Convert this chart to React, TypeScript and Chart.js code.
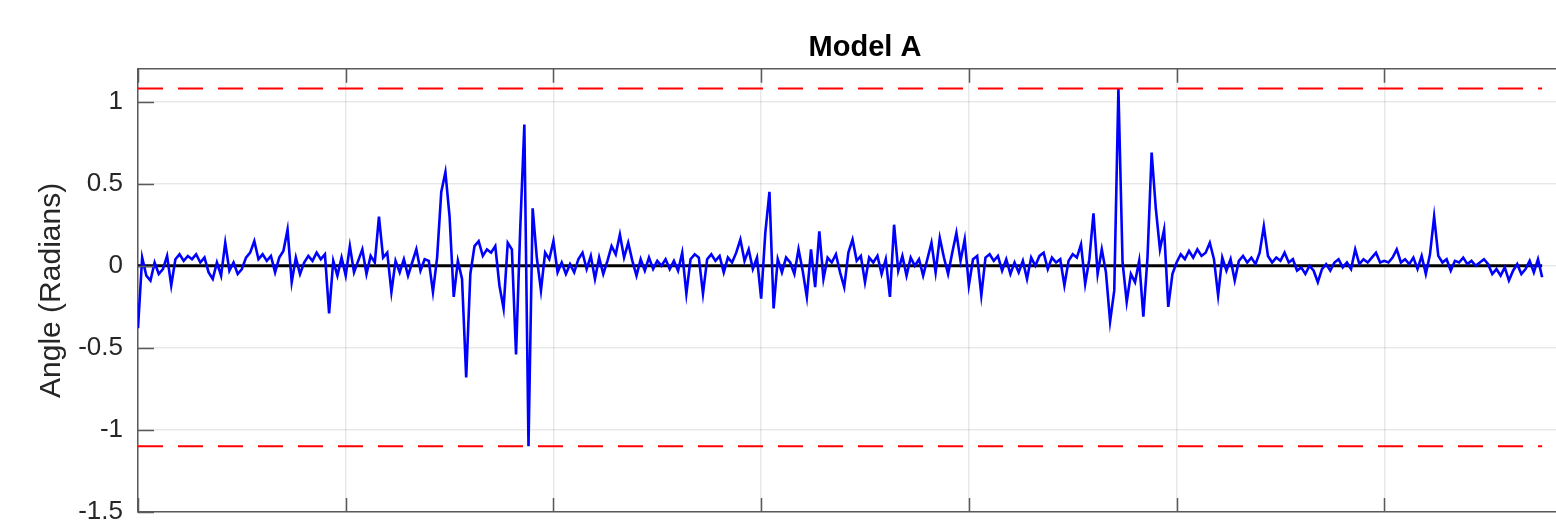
import { useEffect, useRef } from 'react';
import { Chart, registerables } from 'chart.js';

Chart.register(...registerables);

// ---- data ----
const SAMPLE_STEP = 0.02; // x-units between consecutive samples
const TITLE = 'Model A';
const Y_LABEL = 'Angle (Radians)';
const Y_MIN = -1.5;
const Y_MAX = 1.2;
const X_MIN = 0;
const X_MAX = 7;
const Y_TICKS = [-1.5, -1, -0.5, 0, 0.5, 1];
const UPPER_LIMIT = 1.08;
const LOWER_LIMIT = -1.1;

const seg0 = [
  -0.38, 0.05, -0.06, -0.09, 0.02, -0.05, -0.02, 0.06, -0.12, 0.04,
  0.07, 0.03, 0.06, 0.04, 0.07, 0.02, 0.05, -0.04, -0.08, 0.02,
  -0.06, 0.14, -0.03, 0.02, -0.05, -0.02, 0.05, 0.08, 0.15, 0.04,
  0.07, 0.03, 0.06, -0.04, 0.05, 0.09, 0.22, -0.1, 0.05, -0.05,
  0.02, 0.06, 0.03, 0.08, 0.04, 0.07, -0.29, 0.03, -0.06, 0.05,
];
const seg1 = [
  -0.06, 0.12, -0.04, 0.03, 0.1, -0.05, 0.06, 0.02, 0.3, 0.05,
  0.08, -0.16, 0.03, -0.04, 0.04, -0.06, 0.02, 0.1, -0.03, 0.04,
  0.03, -0.16, 0.05, 0.45, 0.57, 0.3, -0.19, 0.03, -0.08, -0.68,
  -0.05, 0.12, 0.15, 0.06, 0.1, 0.08, 0.12, -0.12, -0.26, 0.14,
  0.1, -0.54, 0.22, 0.86, -1.1, 0.35, 0.05, -0.15, 0.08, 0.04,
];
const seg2 = [
  0.15, -0.04, 0.02, -0.05, 0.01, -0.04, 0.04, 0.08, -0.02, 0.06,
  -0.08, 0.05, -0.05, 0.03, 0.12, 0.07, 0.19, 0.05, 0.14, 0.03,
  -0.06, 0.04, -0.03, 0.05, -0.02, 0.03, 0.0, 0.04, -0.02, 0.03,
  -0.03, 0.08, -0.17, 0.04, 0.07, 0.05, -0.17, 0.04, 0.07, 0.03,
  0.06, -0.04, 0.05, 0.02, 0.08, 0.16, 0.03, 0.1, -0.02, 0.05,
];
const seg3 = [
  -0.2, 0.2, 0.45, -0.26, 0.04, -0.04, 0.05, 0.02, -0.05, 0.1,
  -0.03, -0.19, 0.1, -0.13, 0.21, -0.08, 0.05, 0.02, 0.07, -0.04,
  -0.13, 0.08, 0.16, 0.03, 0.06, -0.1, 0.05, 0.02, 0.06, -0.05,
  0.04, -0.19, 0.25, -0.03, 0.06, -0.06, 0.05, 0.0, 0.04, -0.06,
  0.04, 0.14, -0.04, 0.17, 0.05, -0.05, 0.08, 0.2, 0.03, 0.16,
];
const seg4 = [
  -0.12, 0.04, 0.06, -0.18, 0.05, 0.07, 0.03, 0.06, -0.03, 0.04,
  -0.05, 0.02, -0.04, 0.03, -0.08, 0.05, 0.0, 0.06, 0.08, -0.02,
  0.05, 0.02, 0.04, -0.12, 0.03, 0.07, 0.05, 0.13, -0.11, 0.04,
  0.32, -0.05, 0.1, -0.04, -0.34, -0.15, 1.08, 0.02, -0.22, -0.05,
  -0.1, 0.03, -0.31, 0.05, 0.69, 0.35, 0.1, 0.22, -0.25, -0.05,
];
const seg5 = [
  0.02, 0.07, 0.04, 0.09, 0.05, 0.1, 0.06, 0.08, 0.14, 0.04,
  -0.18, 0.05, -0.03, 0.04, -0.09, 0.03, 0.06, 0.02, 0.05, 0.01,
  0.08, 0.24, 0.06, 0.02, 0.05, 0.03, 0.08, 0.02, 0.04, -0.03,
  -0.01, -0.05, 0.0, -0.03, -0.1, -0.02, 0.01, -0.03, 0.02, 0.04,
  -0.01, 0.02, -0.02, 0.1, 0.01, 0.04, 0.02, 0.05, 0.08, 0.02,
];
const seg6 = [
  0.03, 0.02, 0.05, 0.1, 0.02, 0.04, 0.01, 0.05, -0.02, 0.06,
  -0.05, 0.07, 0.3, 0.06, 0.02, 0.04, -0.03, 0.03, 0.02, 0.05,
  0.01, 0.03, 0.0, 0.02, 0.04, 0.01, -0.05, -0.02, -0.06, -0.01,
  -0.09, -0.03, 0.01, -0.05, -0.02, 0.03, -0.04, 0.04, -0.07,
];

// ---- styles ----
const FONT = '"Liberation Sans", Arial, Helvetica, sans-serif';
const AXIS_COLOR = '#5a5a5a';
const GRID_COLOR = 'rgba(0,0,0,0.09)';
const TEXT_COLOR = '#262626';

const framePlugin = {
  id: 'matlabFrame',
  afterDraw(chart: any) {
    const { ctx, chartArea: a, scales } = chart;
    const x = scales.x;
    const y = scales.y;
    ctx.save();
    ctx.strokeStyle = AXIS_COLOR;
    ctx.lineWidth = 1.5;
    ctx.beginPath();
    ctx.moveTo(a.left, a.top);
    ctx.lineTo(a.right, a.top);
    ctx.moveTo(a.right, a.top);
    ctx.lineTo(a.right, a.bottom);
    ctx.stroke();
    ctx.beginPath();
    x.ticks.forEach((t: any) => {
      const px = Math.round(x.getPixelForValue(t.value)) + 0.5;
      ctx.moveTo(px, a.top);
      ctx.lineTo(px, a.top + 14);
      ctx.moveTo(px, a.bottom);
      ctx.lineTo(px, a.bottom - 14);
    });
    y.ticks.forEach((t: any) => {
      const py = Math.round(y.getPixelForValue(t.value)) + 0.5;
      ctx.moveTo(a.left, py);
      ctx.lineTo(a.left + 16, py);
      ctx.moveTo(a.right, py);
      ctx.lineTo(a.right - 16, py);
    });
    ctx.stroke();
    ctx.restore();
  },
};

export default function App() {
  const ref = useRef<HTMLCanvasElement | null>(null);

  useEffect(() => {
    if (!ref.current) return;
    const angle = [...seg0, ...seg1, ...seg2, ...seg3, ...seg4, ...seg5, ...seg6];
    const pts = angle.map((v, i) => ({ x: i * SAMPLE_STEP, y: v }));
    const lastX = (angle.length - 1) * SAMPLE_STEP;

    const chart = new Chart(ref.current, {
      type: 'line',
      data: {
        datasets: [
          {
            label: 'upper',
            data: [{ x: X_MIN, y: UPPER_LIMIT }, { x: lastX, y: UPPER_LIMIT }],
            borderColor: 'rgb(255,0,0)',
            borderWidth: 2,
            borderDash: [25, 15],
            pointRadius: 0,
          },
          {
            label: 'lower',
            data: [{ x: X_MIN, y: LOWER_LIMIT }, { x: lastX, y: LOWER_LIMIT }],
            borderColor: 'rgb(255,0,0)',
            borderWidth: 2,
            borderDash: [25, 15],
            pointRadius: 0,
          },
          {
            label: 'angle',
            data: pts,
            borderColor: 'rgb(0,0,255)',
            borderWidth: 2.6,
            pointRadius: 0,
            tension: 0,
          },
          {
            label: 'zero',
            data: [{ x: X_MIN, y: 0 }, { x: lastX, y: 0 }],
            borderColor: '#000',
            borderWidth: 3,
            pointRadius: 0,
          },
        ],
      },
      options: {
        animation: false,
        responsive: false,
        devicePixelRatio: 1,
        layout: { padding: { left: 0, right: 8, top: 0, bottom: 11 } },
        plugins: {
          legend: { display: false },
          tooltip: { enabled: false },
          title: {
            display: true,
            fullSize: false,
            text: TITLE,
            color: '#000',
            font: { family: FONT, size: 29, weight: 'bold' },
            padding: { top: 31, bottom: 3 },
          },
        },
        scales: {
          x: {
            type: 'linear',
            min: X_MIN,
            max: X_MAX,
            ticks: { display: false, stepSize: 1 },
            grid: { color: GRID_COLOR, lineWidth: 1.5, drawTicks: false },
            border: { display: true, color: AXIS_COLOR, width: 1.5 },
            afterFit: (s: any) => {
              s.height = 0;
              s.paddingLeft = 0;
              s.paddingRight = 0;
            },
          },
          y: {
            type: 'linear',
            min: Y_MIN,
            max: Y_MAX,
            afterBuildTicks: (s: any) => {
              s.ticks = Y_TICKS.map((v) => ({ value: v }));
            },
            ticks: {
              padding: 15,
              color: TEXT_COLOR,
              font: { family: FONT, size: 26 },
              callback: (v: any) => String(v),
            },
            grid: { color: GRID_COLOR, lineWidth: 1.5, drawTicks: false },
            border: { display: true, color: AXIS_COLOR, width: 1.5 },
            title: {
              display: true,
              text: Y_LABEL,
              color: TEXT_COLOR,
              font: { family: FONT, size: 30 },
              padding: { top: 34, bottom: 0 },
            },
            afterFit: (s: any) => {
              s.width = 138;
              s.paddingTop = 0;
              s.paddingBottom = 0;
            },
          },
        },
      },
      plugins: [framePlugin],
    });
    return () => chart.destroy();
  }, []);

  return (
    <div
      style={{
        position: 'fixed',
        left: 0,
        top: 0,
        width: 1556,
        height: 523,
        overflow: 'hidden',
        background: '#fff',
      }}
    >
      <canvas ref={ref} width={1600} height={523} style={{ display: 'block', width: 1600, height: 523 }} />
    </div>
  );
}
